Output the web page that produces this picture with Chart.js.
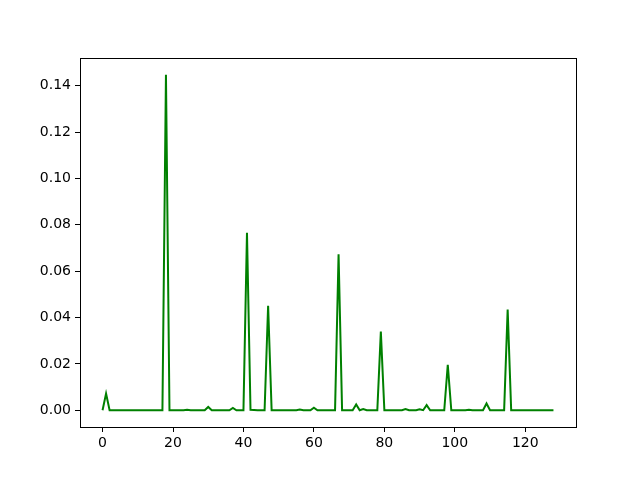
<!DOCTYPE html>
<html>
<head>
<meta charset="utf-8">
<script src="https://cdn.jsdelivr.net/npm/chart.js@4/dist/chart.umd.min.js"></script>
<style>
  html, body { margin: 0; padding: 0; background: #fff; }
  #wrap { width: 640px; height: 480px; }
</style>
</head>
<body>
<div id="wrap"><canvas id="chart" width="640" height="480"></canvas></div>
<script>
// values, one per step 0..128
const VALUES = [
  0, 0.0072, 0, 0, 0, 0, 0, 0, 0, 0,
  0, 0, 0, 0, 0, 0, 0, 0, 0.1447, 0,
  0, 0, 0, 0, 0.0002, 0, 0, 0, 0, 0,
  0.0014, 0, 0, 0, 0, 0, 0, 0.001, 0, 0,
  0, 0.0765, 0.0002, 0.0001, 0, 0, 0, 0.0451, 0, 0,
  0, 0, 0, 0, 0, 0, 0.0003, 0, 0, 0,
  0.0011, 0, 0, 0, 0, 0, 0, 0.0673, 0, 0,
  0, 0, 0.0025, 0, 0.0005, 0, 0, 0, 0, 0.0339,
  0, 0, 0, 0, 0, 0, 0.0005, 0, 0, 0,
  0.0004, 0, 0.0022, 0, 0, 0, 0, 0, 0.0196, 0,
  0, 0, 0, 0, 0.0002, 0, 0, 0, 0, 0.0029,
  0, 0, 0, 0, 0, 0.0434, 0, 0, 0, 0,
  0, 0, 0, 0, 0, 0, 0, 0, 0,
];
const X_TICKS = [0, 20, 40, 60, 80, 100, 120];
const Y_TICKS = [0, 0.02, 0.04, 0.06, 0.08, 0.1, 0.12, 0.14];

const points = VALUES.map((v, i) => ({ x: i, y: v }));

// matplotlib-style 5% margins
const xMax = VALUES.length - 1;
const xPad = xMax * 0.05;
const yMaxVal = Math.max(...VALUES);
const yMinVal = Math.min(...VALUES);
const yPad = (yMaxVal - yMinVal) * 0.05;

const FONT = { family: "'DejaVu Sans', sans-serif", size: 14 };

// draw the four spines like a matplotlib axes box
const frame = {
  id: "frame",
  afterDraw(chart) {
    const { ctx, chartArea: a } = chart;
    ctx.save();
    ctx.strokeStyle = "#000";
    ctx.lineWidth = 1;
    ctx.strokeRect(Math.round(a.left) + 0.5, Math.round(a.top) + 0.5,
      Math.round(a.right - a.left), Math.round(a.bottom - a.top));
    ctx.restore();
  },
};

new Chart(document.getElementById("chart"), {
  type: "line",
  data: {
    datasets: [{
      data: points,
      borderColor: "#008000",
      borderWidth: 2,
      pointRadius: 0,
      tension: 0,
      fill: false,
    }],
  },
  options: {
    responsive: false,
    animation: false,
    events: [],
    layout: { padding: { left: 0, right: 64, top: 58, bottom: 0 } },
    plugins: { legend: { display: false }, tooltip: { enabled: false } },
    scales: {
      x: {
        type: "linear",
        min: -xPad,
        max: xMax + xPad,
        afterFit: (s) => { s.height = 53; },
        afterBuildTicks: (s) => { s.ticks = X_TICKS.map((v) => ({ value: v })); },
        border: { display: false },
        grid: { drawOnChartArea: false, drawTicks: true, tickLength: 5, color: "#000" },
        ticks: { color: "#000", font: FONT, padding: 3, maxRotation: 0,
                 callback: (v) => String(v) },
      },
      y: {
        type: "linear",
        min: yMinVal - yPad,
        max: yMaxVal + yPad,
        afterFit: (s) => { s.width = 80; },
        afterBuildTicks: (s) => { s.ticks = Y_TICKS.map((v) => ({ value: v })); },
        border: { display: false },
        grid: { drawOnChartArea: false, drawTicks: true, tickLength: 5, color: "#000" },
        ticks: { color: "#000", font: FONT, padding: 4,
                 callback: (v) => Number(v).toFixed(2) },
      },
    },
  },
  plugins: [frame],
});
</script>
</body>
</html>
